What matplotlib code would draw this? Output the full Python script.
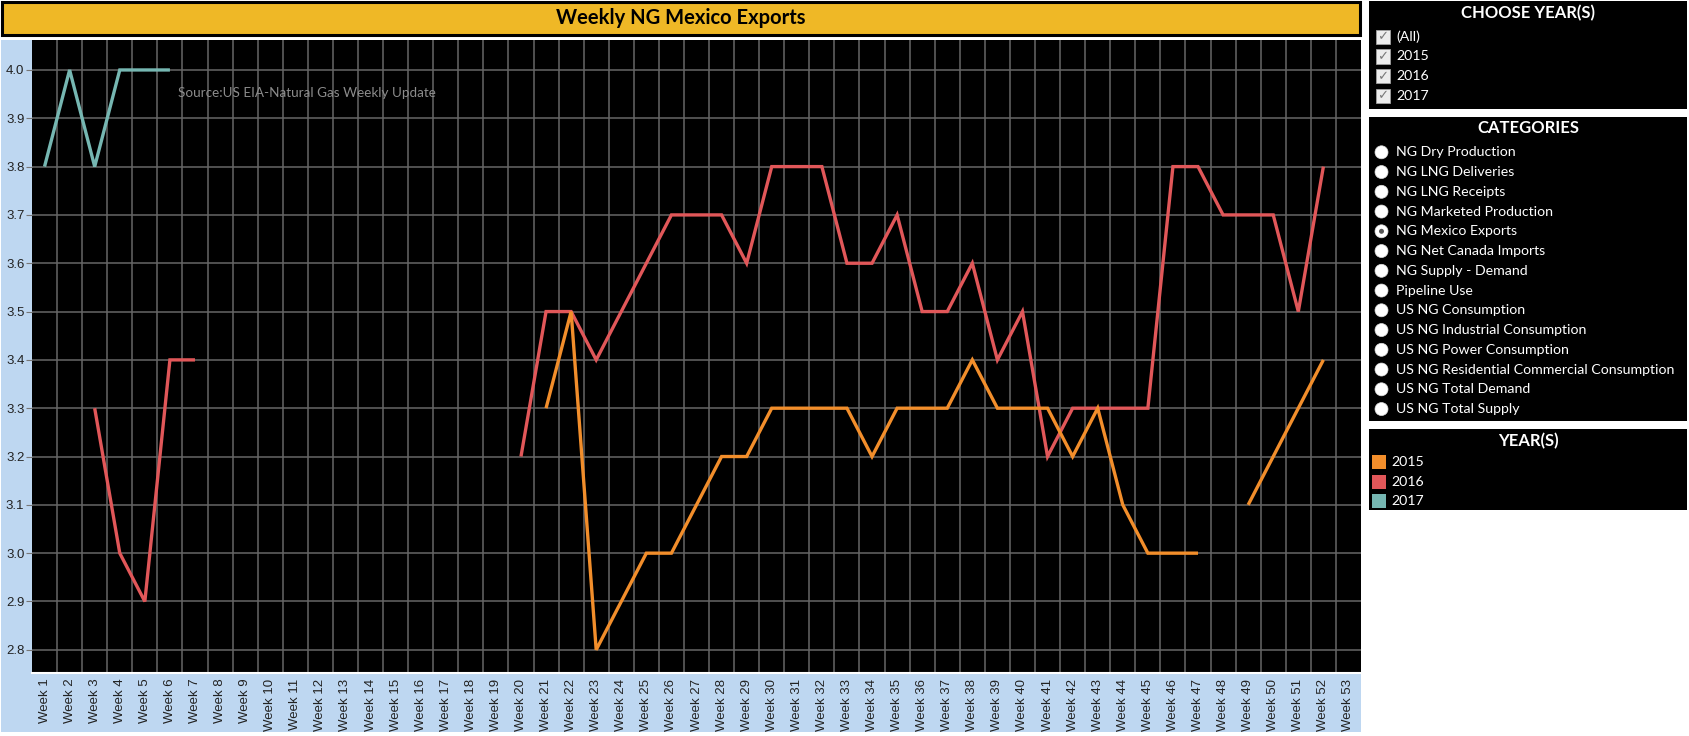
import numpy as np
import matplotlib
matplotlib.use("Agg")
import matplotlib.pyplot as plt
from matplotlib.patches import Rectangle, Ellipse

W, H = 1689, 736

weeks = ["Week %d" % i for i in range(1, 54)]

# weekly values per year (None = no data)
vals_2015 = [None] * 20 + [3.3, 3.5, 2.8, 2.9, 3.0, 3.0, 3.1, 3.2, 3.2, 3.3,
                           3.3, 3.3, 3.3, 3.2, 3.3, 3.3, 3.3, 3.4, 3.3, 3.3,
                           3.3, 3.2, 3.3, 3.1, 3.0, 3.0, 3.0, None, 3.1, 3.2,
                           3.3, 3.4, None]
vals_2016 = [None, None, 3.3, 3.0, 2.9, 3.4, 3.4] + [None] * 12 + \
            [3.2, 3.5, 3.5, 3.4, 3.5, 3.6, 3.7, 3.7, 3.7, 3.6,
             3.8, 3.8, 3.8, 3.6, 3.6, 3.7, 3.5, 3.5, 3.6, 3.4,
             3.5, 3.2, 3.3, 3.3, 3.3, 3.3, 3.8, 3.8, 3.7, 3.7,
             3.7, 3.5, 3.8, None]
vals_2017 = [3.8, 4.0, 3.8, 4.0, 4.0, 4.0] + [None] * 47

years = ["2015", "2016", "2017"]
colors = ["#f28e2b", "#e15759", "#76b7b2"]

categories = ["NG Dry Production", "NG LNG Deliveries", "NG LNG Receipts",
              "NG Marketed Production", "NG Mexico Exports",
              "NG Net Canada Imports", "NG Supply - Demand", "Pipeline Use",
              "US NG Consumption", "US NG Industrial Consumption",
              "US NG Power Consumption",
              "US NG Residential Commercial Consumption",
              "US NG Total Demand", "US NG Total Supply"]
selected = "NG Mexico Exports"
year_filter = ["(All)", "2015", "2016", "2017"]


def fx(px):
    return px / W


def fy(py):
    return 1 - py / H


fig = plt.figure(figsize=(W / 100, H / 100), dpi=100, facecolor="white")

# title bar
fig.patches.append(Rectangle((fx(2), fy(35)), fx(1358), 33 / H, transform=fig.transFigure,
                             facecolor="#efb826", edgecolor="black", linewidth=2.2))
fig.text(fx(681), fy(18), "Weekly NG Mexico Exports", ha="center", va="center",
         fontsize=14.5, fontweight="bold", family="Lato", color="black")

# light blue axis area
fig.patches.append(Rectangle((fx(1), fy(732)), fx(1360), 692 / H, transform=fig.transFigure,
                             facecolor="#bed7f1", edgecolor="none"))

ax = fig.add_axes([fx(32), fy(673), fx(1329), 633 / H])
ax.set_zorder(2)
ax.set_facecolor("black")
x = np.arange(len(weeks))
for vals, c in [(vals_2016, colors[1]), (vals_2015, colors[0]), (vals_2017, colors[2])]:
    y = np.array([np.nan if v is None else v for v in vals], dtype=float)
    ax.plot(x, y, color=c, lw=2.4, solid_joinstyle="miter", solid_capstyle="butt", zorder=3)

ax.set_xlim(-0.5, len(weeks) - 0.5)
ax.set_ylim(2.752, 4.062)
ax.set_xticks(x)
ax.set_xticklabels(weeks, rotation=90, fontsize=9.5, family="Liberation Sans", color="#222222")
ax.set_xticks(np.arange(0.5, len(weeks) - 1, 1), minor=True)
yt = np.round(np.arange(2.8, 4.01, 0.1), 1)
ax.set_yticks(yt)
ax.set_yticklabels(["%.1f" % v for v in yt], fontsize=9.5, family="Liberation Sans", color="#222222")
ax.tick_params(axis="x", which="both", length=0, pad=4)
ax.tick_params(axis="y", length=4, color="#777777", pad=1.5)
ax.grid(True, axis="y", which="major", color="#666666", lw=1.1)
ax.grid(True, axis="x", which="minor", color="#666666", lw=1.1)
ax.set_axisbelow(True)
for s in ["top", "right", "left"]:
    ax.spines[s].set_visible(False)
ax.spines["bottom"].set_color("white")
ax.spines["bottom"].set_linewidth(1.5)

fig.text(fx(178), fy(93), "Source:US EIA-Natural Gas Weekly Update", ha="left", va="center",
         fontsize=9.7, family="Lato", color="#8c8c8c", zorder=5)

# right side panels
def panel(top, bottom, heading, head_y):
    fig.patches.append(Rectangle((fx(1369), fy(bottom)), fx(318), (bottom - top) / H,
                                 transform=fig.transFigure, facecolor="black", edgecolor="none"))
    fig.text(fx(1528), fy(head_y), heading, ha="center", va="center", fontsize=12,
             fontweight="bold", family="Lato", color="white")


panel(1, 109, "CHOOSE YEAR(S)", 13)
for i, lab in enumerate(year_filter):
    cy = 36.7 + i * 19.8
    fig.patches.append(Rectangle((fx(1375.5), fy(cy + 7)), fx(14), 14 / H, transform=fig.transFigure,
                                 facecolor="#ececec", edgecolor="#a0a0a0", linewidth=0.6))
    fig.text(fx(1382.5), fy(cy), "\u2713", ha="center", va="center", fontsize=9.5,
             family="DejaVu Sans", color="#7a7a7a")
    fig.text(fx(1396), fy(cy), lab, ha="left", va="center", fontsize=10.2, family="Lato", color="white")

panel(117, 421, "CATEGORIES", 128)
for i, lab in enumerate(categories):
    cy = 152.3 + i * 19.75
    fig.patches.append(Ellipse((fx(1381.5), fy(cy)), 13 / W, 13 / H, transform=fig.transFigure,
                               facecolor="white", edgecolor="#dddddd", linewidth=0.5))
    if lab == selected:
        fig.patches.append(Ellipse((fx(1381.5), fy(cy)), 5 / W, 5 / H, transform=fig.transFigure,
                                   facecolor="#555555", edgecolor="none"))
    fig.text(fx(1396), fy(cy), lab, ha="left", va="center", fontsize=10.2, family="Lato", color="white")

panel(429, 510, "YEAR(S)", 441)
for i, (lab, c) in enumerate(zip(years, colors)):
    cy = 462 + i * 19.7
    fig.patches.append(Rectangle((fx(1372), fy(cy + 7)), fx(14), 14 / H, transform=fig.transFigure,
                                 facecolor=c, edgecolor="none"))
    fig.text(fx(1391), fy(cy), lab, ha="left", va="center", fontsize=10.2, family="Lato", color="white")

fig.savefig("out.png", dpi=100, facecolor="white")
